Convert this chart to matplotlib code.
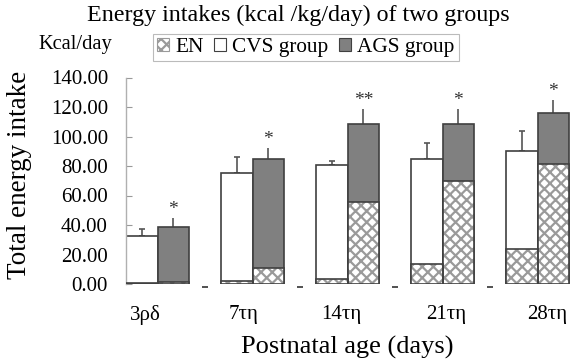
import matplotlib
matplotlib.use("Agg")
import matplotlib.pyplot as plt
from matplotlib.patches import Patch
import numpy as np

plt.rcParams['font.family'] = ['Liberation Serif', 'DejaVu Serif']
plt.rcParams['hatch.linewidth'] = 1.6

categories = ["3ρδ", "7τη", "14τη", "21τη", "28τη"]
cvs_total = [32.5, 75.0, 80.9, 84.5, 90.4]
cvs_err = [5.0, 11.3, 2.5, 10.9, 13.1]
cvs_en = [0.6, 2.0, 3.4, 13.6, 23.5]
ags_total = [38.4, 84.7, 108.3, 108.3, 115.7]
ags_err = [6.3, 7.3, 10.3, 10.3, 9.1]
ags_en = [1.5, 11.0, 55.4, 70.0, 81.2]
signif = ["*", "*", "**", "*", "*"]
yticks = [0, 20, 40, 60, 80, 100, 120, 140]

fig = plt.figure(figsize=(5.74, 3.59), dpi=100)
ax = fig.add_axes([126/574, (359-284)/359, 448/574, (284-77.5)/359])
ax.set_xlim(-0.332, -0.332 + 448/95)
ax.set_ylim(0, 140)

x = np.arange(len(categories))
w = 0.333
edge = '#404040'
hatch_col = '#9a9a9a'

ax.bar(x - w/2, cvs_total, width=w, color='white', edgecolor=edge, linewidth=1.2, zorder=2)
ax.bar(x + w/2, ags_total, width=w, color='#808080', edgecolor=edge, linewidth=1.2, zorder=2)
for xs, en in ((x - w/2, cvs_en), (x + w/2, ags_en)):
    ax.bar(xs, en, width=w, color='white', edgecolor=hatch_col, hatch='xxx', linewidth=0, zorder=3)
    ax.bar(xs, en, width=w, color='none', edgecolor=edge, linewidth=1.2, zorder=4)

ax.errorbar(x - w/2, cvs_total, yerr=[np.zeros(5), cvs_err], fmt='none', ecolor='#555555',
            elinewidth=1.2, capsize=2.5, capthick=1.2, zorder=1)
ax.errorbar(x + w/2, ags_total, yerr=[np.zeros(5), ags_err], fmt='none', ecolor='#555555',
            elinewidth=1.2, capsize=0, zorder=1)

for i, s in enumerate(signif):
    ax.annotate(s, xy=(x[i] + w/2, ags_total[i] + ags_err[i]), xytext=(0, 3),
                textcoords='offset points', ha='center', va='baseline', fontsize=14,
                color='#333333')

# small dashes between groups
ax.plot(x[:-1] + 0.5, [-2.0]*4, ls='none', marker='_', markersize=4, color='#333333',
        markeredgewidth=1.2, clip_on=False)

ax.set_yticks(yticks)
ax.set_yticklabels([f"{v:.2f}" for v in yticks], fontsize=15)
ax.tick_params(axis='y', direction='in', length=4, color='#999999', pad=13)
ax.set_xticks([-0.13, 0.91, 1.93, 3.04, 4.10])
ax.set_xticklabels(categories, fontsize=15)
ax.tick_params(axis='x', length=0, pad=15)

for sp in ['top', 'right', 'bottom']:
    ax.spines[sp].set_visible(False)
ax.spines['left'].set_color('#b0b0b0')
ax.spines['left'].set_linewidth(1.0)

fig.text(298.5/574, 1 - 15.5/359, "Energy intakes (kcal /kg/day) of two groups", ha='center', va='center', fontsize=17.3)
fig.text(75/574, 1 - 45/359, "Kcal/day", ha='center', va='center', fontsize=14.8)
fig.text(20/574, 1 - 175/359, "Total energy intake", ha='center', va='center', rotation=90, fontsize=19.5)
fig.text(347/574, 1 - 347/359, "Postnatal age (days)", ha='center', va='center', fontsize=19)

handles = [Patch(facecolor='white', edgecolor=hatch_col, hatch='xxx', linewidth=0.8),
           Patch(facecolor='white', edgecolor=edge, linewidth=0.8),
           Patch(facecolor='#808080', edgecolor=edge, linewidth=0.8)]
leg = fig.legend(handles, ["EN", "CVS group", "AGS group"], loc='center',
                 bbox_to_anchor=(306/574, 1 - 47.5/359), ncol=3, fontsize=15.3,
                 handlelength=0.55, handleheight=0.55, handletextpad=0.3,
                 columnspacing=0.5, borderpad=0.2, fancybox=False, frameon=True,
                 borderaxespad=0)
leg.get_frame().set_edgecolor('#aaaaaa')
leg.get_frame().set_linewidth(0.8)

fig.savefig("out.png", dpi=100)
